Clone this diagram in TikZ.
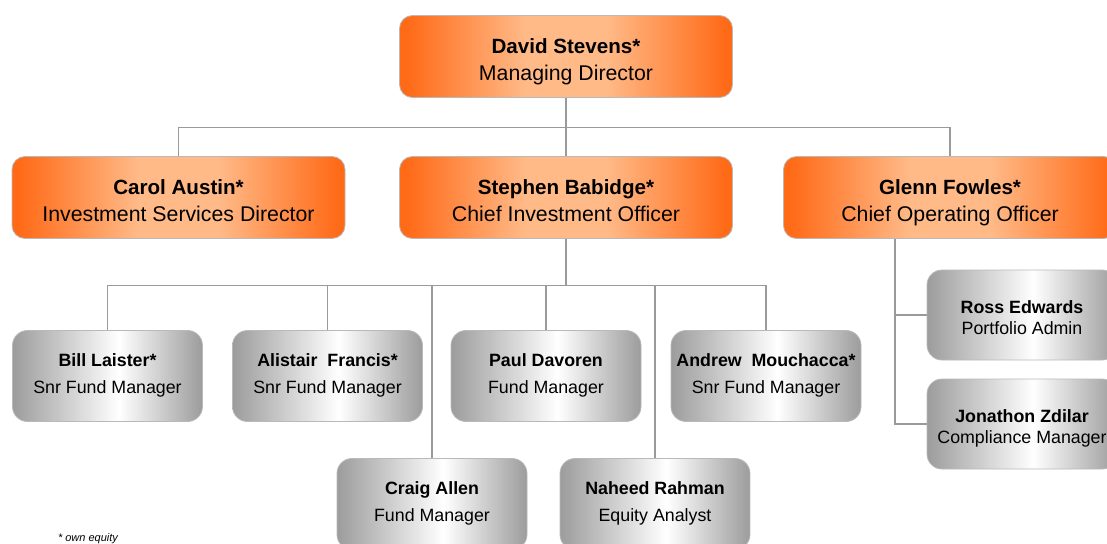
\documentclass[tikz,border=0pt]{standalone}
\usepackage{fontspec}
\setmainfont{Liberation Sans}
\definecolor{orA}{HTML}{FF6A17}
\definecolor{orB}{HTML}{FFBA88}
\definecolor{grA}{HTML}{9C9C9C}
\definecolor{lineC}{HTML}{9A9A9A}
\pgfdeclarehorizontalshading{orangesh}{100bp}{color(0bp)=(orA); color(26bp)=(orA); color(44bp)=(orB); color(56bp)=(orB); color(74bp)=(orA); color(100bp)=(orA)}
\pgfdeclarehorizontalshading{greysh}{100bp}{color(0bp)=(grA); color(25bp)=(grA); color(53bp)=(white); color(75bp)=(grA); color(100bp)=(grA)}
\newcommand\topname[1]{{\fontsize{20.6}{27}\selectfont\bfseries #1}}
\tikzset{
  obox/.style={draw=gray!55, line width=0.8pt, rounded corners=13pt, shading=orangesh,
    minimum width=333pt, minimum height=82pt, align=center, inner sep=0pt,
    text height=47pt, text depth=0pt,
    font=\fontsize{21.3}{27}\selectfont},
  gbox/.style={draw=gray!55, line width=0.8pt, rounded corners=15pt, shading=greysh,
    minimum width=190pt, minimum height=91pt, align=center, inner sep=0pt,
    text height=35pt, text depth=0pt,
    font=\fontsize{17.8}{27}\selectfont},
  sbox/.style={gbox, minimum height=90pt, text height=38pt,
    font=\fontsize{17.8}{21}\selectfont},
  conn/.style={draw=lineC, line width=1.2pt},
}
\begin{document}
\begin{tikzpicture}[x=1pt,y=-1pt]
\useasboundingbox (0,0) rectangle (1107,543);
\clip (0,0) rectangle (1107,543);
% level 1
\node[obox] (ds) at (566,56.5) {\topname{David Stevens*}\\Managing Director};
% level 2
\node[obox] (ca) at (178.5,197.5) {\topname{Carol Austin*}\\Investment Services Director};
\node[obox] (sb) at (566,197.5) {\topname{Stephen Babidge*}\\Chief Investment Officer};
\node[obox] (gf) at (950,197.5) {\topname{Glenn Fowles*}\\Chief Operating Officer};
% level 3
\node[gbox] (bl) at (107.5,376) {\textbf{Bill Laister*}\\Snr Fund Manager};
\node[gbox] (af) at (327.5,376) {\textbf{Alistair\ \ Francis*}\\Snr Fund Manager};
\node[gbox] (pd) at (546,376) {\textbf{Paul Davoren}\\Fund Manager};
\node[gbox] (am) at (766,376) {\textbf{Andrew\ \ Mouchacca*}\\Snr Fund Manager};
\node[gbox] (cr) at (432,504) {\textbf{Craig Allen}\\Fund Manager};
\node[gbox] (nr) at (655,504) {\textbf{Naheed Rahman}\\Equity Analyst};
\node[sbox] (re) at (1022,315) {\textbf{Ross Edwards}\\Portfolio Admin};
\node[sbox] (jz) at (1022,424) {\textbf{Jonathon Zdilar}\\Compliance Manager};
% footnote
\node[font=\itshape\fontsize{11}{13}\selectfont, anchor=base] (fn) at (88,541) {* own equity};
% connectors
\coordinate (topbus) at (566,127.5);
\coordinate (midbus) at (566,285.5);
\coordinate (gx) at (895,0);
\draw[conn] (ds.south) -- (sb.north);
\draw[conn] (ca.north) |- (topbus) -| (gf.north);
\draw[conn] (sb.south) -- (midbus);
\draw[conn] (bl.north) |- (midbus) -| (am.north);
\draw[conn] (af.north) -- (af.north |- midbus);
\draw[conn] (pd.north) -- (pd.north |- midbus);
\draw[conn] (cr.north) -- (cr.north |- midbus);
\draw[conn] (nr.north) -- (nr.north |- midbus);
\draw[conn] (gf.south -| gx) |- (jz.west);
\draw[conn] (re.west) -- (re.west -| gx);
\end{tikzpicture}
\end{document}
